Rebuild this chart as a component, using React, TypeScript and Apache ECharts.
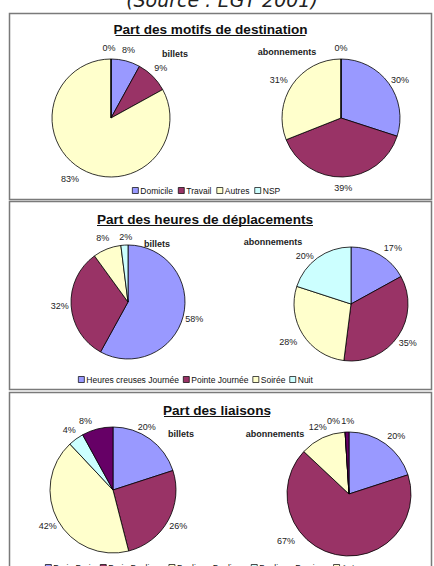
import React, { useEffect, useRef } from "react";
import * as echarts from "echarts";

const sourceText = "(Source : EGT 2001)";

const titles = [
  "Part des motifs de destination",
  "Part des heures de déplacements",
  "Part des liaisons",
];

const motifCategories = ["Domicile", "Travail", "Autres", "NSP"];
const motifBillets = [8, 9, 83, 0];
const motifAbonnements = [30, 39, 31, 0];

const heureCategories = ["Heures creuses Journée", "Pointe Journée", "Soirée", "Nuit"];
const heureBillets = [58, 32, 8, 2];
const heureAbonnements = [17, 35, 28, 20];

const liaisonCategories = ["Paris-Paris", "Paris-Banlieue", "Banlieue-Banlieue", "Banlieue-Province", "Autres"];
const liaisonBillets = [20, 26, 42, 4, 8];
const liaisonAbonnements = [20, 67, 12, 0, 1];

const palette = ["#9999FF", "#993366", "#FFFFCC", "#CCFFFF", "#660066"];

const FONT = "'Liberation Sans', Arial, sans-serif";

function pie(name: string, cats: string[], vals: number[], center: [number, number], r: number) {
  return {
    type: "pie",
    name,
    center,
    radius: r,
    startAngle: 90,
    clockwise: true,
    avoidLabelOverlap: false,
    silent: true,
    data: cats.map((c, i) => ({ name: c, value: vals[i], itemStyle: { color: palette[i] } })),
    itemStyle: { borderColor: "#000", borderWidth: 0.8 },
    label: { show: false },
    labelLine: { show: false },
  };
}

// transparent ring around the pie, carrying the percentage labels
function labelRing(
  name: string,
  cats: string[],
  vals: number[],
  center: [number, number],
  r: number,
  offsets: Record<number, [number, number]> = {}
) {
  return {
    type: "pie",
    name: name + " labels",
    center,
    radius: [r + 1, r + 16],
    startAngle: 90,
    clockwise: true,
    avoidLabelOverlap: false,
    silent: true,
    legendHoverLink: false,
    data: cats.map((c, i) => ({
      name: c,
      value: vals[i],
      itemStyle: { color: "rgba(0,0,0,0)", borderWidth: 0 },
      label: offsets[i] ? { offset: offsets[i] } : undefined,
    })),
    label: {
      show: true,
      position: "inside",
      formatter: "{c}%",
      color: "#222",
      fontSize: 9,
      fontFamily: FONT,
    },
    labelLine: { show: false },
    z: 5,
  };
}

function legend(cats: string[], top: number, left: number, gap: number) {
  return {
    data: cats,
    top,
    left,
    orient: "horizontal",
    icon: "rect",
    itemWidth: 6,
    itemHeight: 6,
    itemGap: gap,
    selectedMode: false,
    padding: 0,
    textStyle: { fontSize: 8.5, color: "#111", fontFamily: FONT, padding: [0, 0, 0, -3] },
    itemStyle: { borderColor: "#000", borderWidth: 0.7 },
  };
}

export default function App() {
  const ref = useRef<HTMLDivElement>(null);
  useEffect(() => {
    if (!ref.current) return;
    const chart = echarts.init(ref.current, null, { renderer: "svg" });
    const panels = [
      { y: 13, h: 186 },
      { y: 201, h: 188 },
      { y: 392, h: 190 },
    ];
    const titleY = [29, 219, 410];
    const titleHalfW = [95, 108, 53];
    const titleX = [210.5, 205, 217];
    const graphic: any[] = [];
    panels.forEach((p) => {
      graphic.push({
        type: "rect",
        shape: { x: 9.5, y: p.y + 0.5, width: 422, height: p.h },
        style: { fill: "#fff", stroke: "#7a7a7a", lineWidth: 1.5 },
        z: -10,
      });
    });
    titles.forEach((t, i) => {
      graphic.push({
        type: "text",
        x: titleX[i],
        y: titleY[i],
        style: {
          text: t,
          fill: "#111",
          font: `bold 13.6px ${FONT}`,
          textAlign: "center",
          textVerticalAlign: "middle",
        },
      });
      graphic.push({
        type: "line",
        shape: { x1: titleX[i] - titleHalfW[i], y1: titleY[i] + 6.5, x2: titleX[i] + titleHalfW[i], y2: titleY[i] + 6.5 },
        style: { stroke: "#111", lineWidth: 1 },
      });
    });
    const subLabels = [
      ["billets", 175, 54],
      ["abonnements", 287, 52],
      ["billets", 157, 244],
      ["abonnements", 273, 242],
      ["billets", 181, 434],
      ["abonnements", 275, 434],
    ];
    subLabels.forEach(([t, x, y]) => {
      graphic.push({
        type: "text",
        x: x as number,
        y: y as number,
        style: {
          text: t as string,
          fill: "#222",
          font: `bold 9px ${FONT}`,
          textAlign: "center",
          textVerticalAlign: "middle",
        },
      });
    });
    graphic.push({
      type: "text",
      x: 222,
      y: 9,
      style: {
        text: sourceText,
        fill: "#222",
        font: `italic 19px 'DejaVu Sans', sans-serif`,
        textAlign: "center",
        textVerticalAlign: "bottom",
      },
    });

    chart.setOption({
      animation: false,
      backgroundColor: "#fff",
      graphic,
      legend: [
        legend(motifCategories, 186, 132, 5),
        legend(heureCategories, 375, 78, 4),
        legend(liaisonCategories, 563, 45, 5),
      ],
      series: [
        pie("motifs billets", motifCategories, motifBillets, [111, 118], 59),
        pie("motifs abonnements", motifCategories, motifAbonnements, [341, 118], 59),
        pie("heures billets", heureCategories, heureBillets, [128, 302], 57),
        pie("heures abonnements", heureCategories, heureAbonnements, [351, 304], 57),
        pie("liaisons billets", liaisonCategories, liaisonBillets, [113, 490], 63),
        pie("liaisons abonnements", liaisonCategories, liaisonAbonnements, [349, 494], 62),
        labelRing("motifs billets", motifCategories, motifBillets, [111, 118], 59, { 2: [-5, 0], 3: [-2, 0] }),
        labelRing("motifs abonnements", motifCategories, motifAbonnements, [341, 118], 59, { 0: [2, 3], 2: [-4, 2] }),
        labelRing("heures billets", heureCategories, heureBillets, [128, 302], 57, { 3: [2, 3] }),
        labelRing("heures abonnements", heureCategories, heureAbonnements, [351, 304], 57, { 0: [7, 3], 2: [-5, 1], 3: [-6, 7] }),
        labelRing("liaisons billets", liaisonCategories, liaisonBillets, [113, 490], 63, { 0: [-10, -3], 4: [-9, 3] }),
        labelRing("liaisons abonnements", liaisonCategories, liaisonAbonnements, [349, 494], 62, { 0: [4, 1], 1: [-47, -25], 3: [-11, 0], 4: [1, 0] }),
      ],
    });
    return () => chart.dispose();
  }, []);
  return (
    <div
      ref={ref}
      style={{ position: "fixed", left: 0, top: 0, width: 434, height: 566, background: "#fff" }}
    />
  );
}
